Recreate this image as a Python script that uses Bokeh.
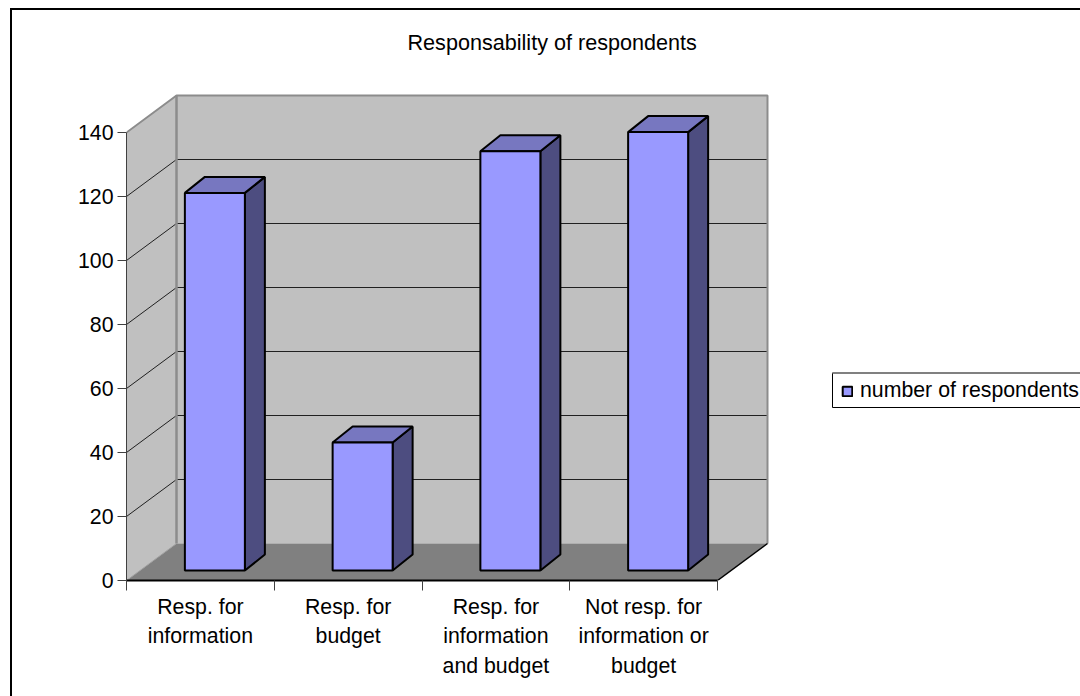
from bokeh.plotting import figure
from bokeh.models import (LinearAxis, FixedTicker, Range1d, Legend, LegendItem, Title)
from bokeh.embed import file_html
from bokeh.resources import INLINE

title_text = "Responsability of respondents"
categories = ["Resp. for\ninformation", "Resp. for\nbudget",
              "Resp. for\ninformation\nand budget", "Not resp. for\ninformation or\nbudget"]
label_ticks = [0.5, 1.5, 2.5, 3.5]
values = [118, 40, 131, 137]
y_ticks = [0, 20, 40, 60, 80, 100, 120, 140]
x_ticks = [0, 1, 2, 3, 4]
series_name = "number of respondents"

FONT = "Liberation Sans"
FS = "21.3px"
WALL, FLOOR, EDGE = "#C0C0C0", "#808080", "#8C8C8C"
BAR, BAR_TOP, BAR_SIDE = "#9999FF", "#7777C0", "#4D4D80"

PX_X = 147.75      # px per category
PX_Y = 3.2         # px per value unit
W, H = 1080, 696
L, R_M, T_M, B_M = 126, 0, 90, 116   # frame offsets inside the figure
DX, DY = 50 / PX_X, 37 / PX_Y        # chart depth
BX, BY = 14.5 / PX_X, 10 / PX_Y      # bar front face offset from category centre / floor
BW = 30 / PX_X                       # half bar width
BDX, BDY = 20 / PX_X, 16 / PX_Y      # bar depth
XMAX, YMAX = 4, 140

p = figure(width=W, height=H, output_backend="svg", toolbar_location=None,
           x_range=Range1d(0, (W - L - R_M) / PX_X), y_range=Range1d(0, (H - T_M - B_M) / PX_Y),
           x_axis_type=None, y_axis_type=None, min_border_left=L, min_border_right=R_M,
           min_border_top=T_M, min_border_bottom=B_M, outline_line_color=None,
           background_fill_color="white", border_fill_color=None)
p.grid.visible = False

# outer chart border: top and left (the right and bottom fall outside the window)
p.styles = {
    "background": "linear-gradient(#000,#000) 10px 8px / 100% 2px no-repeat,"
                  "linear-gradient(#000,#000) 10px 8px / 2px 100% no-repeat, #fff",
}

p.title = Title(text=title_text, align="left", offset=281, standoff=0,
                text_font=FONT, text_font_size="21.6px", text_font_style="normal", text_color="#000000")

# invisible spacer between the title and the plot area
p.add_layout(LinearAxis(ticker=FixedTicker(ticks=[0], minor_ticks=[]), major_tick_in=0, major_tick_out=36,
                        minor_tick_out=0, major_tick_line_color=None, minor_tick_line_color=None,
                        axis_line_color=None, major_label_text_color=None,
                        major_label_overrides={0: ""},
                        major_label_text_font_size="0px", major_label_standoff=0), "above")

# walls and floor
p.patch([0, DX, DX, 0], [0, DY, DY + YMAX, YMAX], fill_color=WALL, line_color=None)
p.patch([DX, DX + XMAX, DX + XMAX, DX], [DY, DY, DY + YMAX, DY + YMAX], fill_color=WALL, line_color=None)
p.patch([0, DX, DX + XMAX, XMAX], [0, DY, DY, 0], fill_color=FLOOR, line_color=None)

# gridlines
for v in y_ticks[1:-1]:
    p.line([0, DX, DX + XMAX], [v, v + DY, v + DY], line_color="#202020", line_width=1)
p.line([0, DX], [0, DY], line_color="#A0A0A0", line_width=1)
p.line([0, DX, DX + XMAX, DX + XMAX], [YMAX, DY + YMAX, DY + YMAX, DY], line_color=EDGE, line_width=2)
p.line([DX, DX], [DY, DY + YMAX], line_color=EDGE, line_width=2.5)
p.line([XMAX, DX + XMAX], [0, DY], line_color="black", line_width=1.5)

# bars
front = None
for i, v in enumerate(values):
    c = i + 0.5 + BX
    x0, x1 = c - BW, c + BW
    b, t = BY, BY + v
    p.patch([x1, x1 + BDX, x1 + BDX, x1], [b, b + BDY, t + BDY, t], fill_color=BAR_SIDE,
            line_color="black", line_width=2)
    p.patch([x0, x0 + BDX, x1 + BDX, x1], [t, t + BDY, t + BDY, t], fill_color=BAR_TOP,
            line_color="black", line_width=2)
    r = p.quad(left=x0, right=x1, bottom=b, top=t, fill_color=BAR, line_color="black", line_width=2)
    front = front or r

# axes
yax = LinearAxis(ticker=FixedTicker(ticks=y_ticks, minor_ticks=[]), bounds=(0, 140),
                 major_tick_in=0, major_tick_out=9, minor_tick_out=0, major_tick_line_color="#404040",
                 axis_line_color="#404040", axis_line_width=1,
                 major_label_text_font=FONT, major_label_text_font_size=FS,
                 major_label_text_color="#000000", major_label_standoff=4)
p.add_layout(yax, "left")

xax = LinearAxis(ticker=FixedTicker(ticks=x_ticks, minor_ticks=[]), bounds=(0, 4),
                 major_tick_in=0, major_tick_out=10, minor_tick_out=0,
                 major_tick_line_color="#404040", axis_line_color="black", axis_line_width=2,
                 major_label_text_font_size="0px", major_label_text_color=None)
p.add_layout(xax, "below")

lab = LinearAxis(ticker=FixedTicker(ticks=label_ticks, minor_ticks=[]),
                 major_label_overrides={t: c for t, c in zip(label_ticks, categories)},
                 major_tick_line_color=None, minor_tick_line_color=None, axis_line_color=None,
                 major_tick_out=0, major_tick_in=0, minor_tick_out=0, major_label_standoff=4,
                 major_label_text_font=FONT, major_label_text_font_size=FS,
                 major_label_text_color="#000000", major_label_text_line_height=1.23)
p.add_layout(lab, "below")

# legend box (its right side falls outside the window), drawn in plot units
LB_L, LB_R = 706 / PX_X, 960 / PX_X
LB_B, LB_T = 173 / PX_Y, 207.5 / PX_Y
p.quad(left=LB_L, right=LB_R, bottom=LB_B, top=LB_T, fill_color="white", line_color="black", line_width=1)
p.line([LB_L, LB_R], [LB_T, LB_T], line_color="#808080", line_width=2)

leg = Legend(items=[LegendItem(label=series_name, renderers=[front])],
             location=(715, 177), orientation="vertical", padding=0, margin=0, spacing=0,
             glyph_width=12, glyph_height=12, label_standoff=7, label_height=16,
             label_text_font=FONT, label_text_font_size=FS, label_text_color="#000000",
             border_line_color=None, background_fill_alpha=0)
p.add_layout(leg, "center")

open("out.html", "w").write(file_html(p, INLINE))
